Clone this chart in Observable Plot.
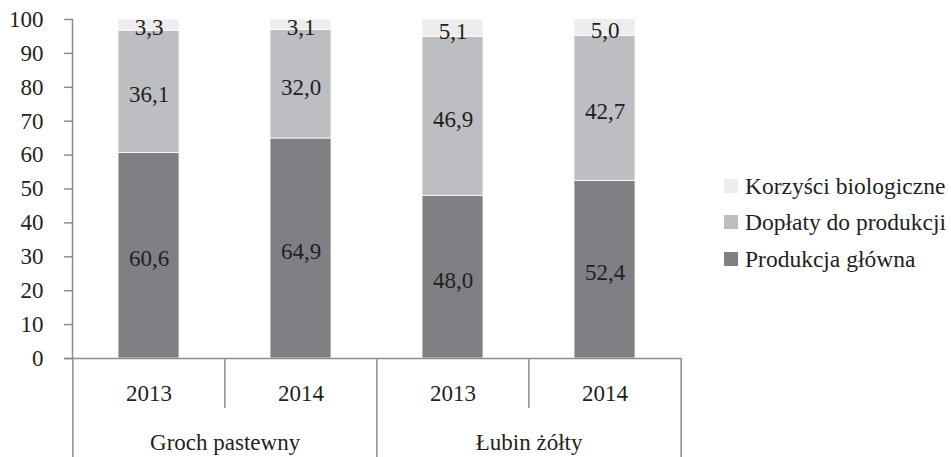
<!DOCTYPE html>
<html>
<head>
<meta charset="utf-8">
<script src="https://cdn.jsdelivr.net/npm/d3@7"></script>
<script src="https://cdn.jsdelivr.net/npm/@observablehq/plot@0.6"></script>
<style>
  html, body { margin: 0; padding: 0; background: #fff; }
  #wrap { position: relative; width: 951px; height: 457px; font-family: "Liberation Serif", "Times New Roman", serif; color: #231f20; }
  #legend { position: absolute; left: 724px; top: 0; }
  .item { position: absolute; left: 0; white-space: nowrap; font-size: 23.5px; line-height: 26px; display: flex; align-items: center; }
  .sw { width: 14px; height: 14px; margin-right: 7px; flex: none; }
</style>
</head>
<body>
<div id="wrap"><div id="chart"></div><div id="legend"></div></div>
<script>
// ---- data ----
const groups = ["Groch pastewny", "Groch pastewny", "Łubin żółty", "Łubin żółty"];
const years = ["2013", "2014", "2013", "2014"];
const seriesNames = ["Produkcja główna", "Dopłaty do produkcji", "Korzyści biologiczne"];
const produkcja = [60.6, 64.9, 48.0, 52.4];
const doplaty = [36.1, 32.0, 46.9, 42.7];
const korzysci = [3.3, 3.1, 5.1, 5.0];
const seriesColors = ["#7f8084", "#bdbec2", "#ededed"];
const yTicks = [0, 10, 20, 30, 40, 50, 60, 70, 80, 90, 100];

// ---- build table ----
const keys = groups.map((g, i) => g + " " + years[i]);
const seriesValues = [produkcja, doplaty, korzysci];
const rows = [];
seriesNames.forEach((s, si) => {
  keys.forEach((k, i) => rows.push({key: k, series: s, value: seriesValues[si][i]}));
});
const fmt = v => d3.format(".1f")(v).replace(".", ",");

const W = 951, H = 457, mL = 72, mR = 270, mT = 19, mB = 99;
const step = (W - mL - mR) / keys.length;
const axisGray = "#8c8c8c";
const textCol = "#231f20";
const FS = 23;

const longKeys = keys.filter((k, i) => i === 0 || groups[i] !== groups[i - 1]);
const shortKeys = keys.filter((k, i) => i > 0 && groups[i] === groups[i - 1]);
const lastKey = [keys[keys.length - 1]];
const groupFirst = keys.map((k, i) => ({key: k, group: groups[i]})).filter((d, i) => i === 0 || groups[i] !== groups[i - 1]);

const chart = Plot.plot({
  width: W, height: H,
  marginLeft: mL, marginRight: mR, marginTop: mT, marginBottom: mB,
  style: {fontFamily: "'Liberation Serif', 'Times New Roman', serif", fontSize: FS + "px", color: textCol, background: "#fff", overflow: "visible"},
  x: {domain: keys, paddingInner: 0.6, paddingOuter: 0.3, axis: null},
  y: {domain: [0, 100], axis: null},
  color: {domain: seriesNames, range: seriesColors},
  marks: [
    Plot.barY(rows, {x: "key", y: "value", fill: "series", order: seriesNames, stroke: "#ffffff", strokeWidth: 0.8}),
    Plot.text(rows, Plot.stackY({x: "key", y: "value", z: "series", order: seriesNames, text: d => fmt(d.value), fill: textCol, dy: 3, fontSize: FS})),
    // y axis
    Plot.axisY({ticks: yTicks, tickSize: 8, tickPadding: 21, stroke: axisGray, strokeWidth: 1.5, fill: textCol, fontSize: FS, tickFormat: d => String(d), label: null}),
    Plot.frame({anchor: "left", stroke: axisGray, strokeWidth: 1.5}),
    Plot.ruleY([0], {stroke: axisGray, strokeWidth: 1.5, insetLeft: -8}),
    // category dividers
    Plot.ruleX(longKeys, {x: d => d, y1: 0, y2: 0, dx: -step / 2, insetBottom: -mB, stroke: axisGray, strokeWidth: 1.5}),
    Plot.ruleX(lastKey, {x: d => d, y1: 0, y2: 0, dx: step / 2, insetBottom: -mB, stroke: axisGray, strokeWidth: 1.5}),
    Plot.ruleX(shortKeys, {x: d => d, y1: 0, y2: 0, dx: -step / 2, insetBottom: -50, stroke: axisGray, strokeWidth: 1.5}),
    // category labels
    Plot.text(keys, {x: d => d, y: () => 0, text: (d, i) => years[i], dy: 35, fill: textCol, fontSize: FS}),
    Plot.text(groupFirst, {x: "key", y: () => 0, text: "group", dx: step / 2, dy: 84, fill: textCol, fontSize: FS})
  ]
});
document.getElementById("chart").appendChild(chart);

// ---- legend (top to bottom: reverse stacking order) ----
const legendCenters = [186, 222, 259];
const leg = document.getElementById("legend");
seriesNames.slice().reverse().forEach((s, i) => {
  const idx = seriesNames.indexOf(s);
  const it = document.createElement("div");
  it.className = "item";
  it.style.top = (legendCenters[i] - 13) + "px";
  const sw = document.createElement("span");
  sw.className = "sw";
  sw.style.background = seriesColors[idx];
  const t = document.createElement("span");
  t.textContent = s;
  it.appendChild(sw); it.appendChild(t);
  leg.appendChild(it);
});
</script>
</body>
</html>
